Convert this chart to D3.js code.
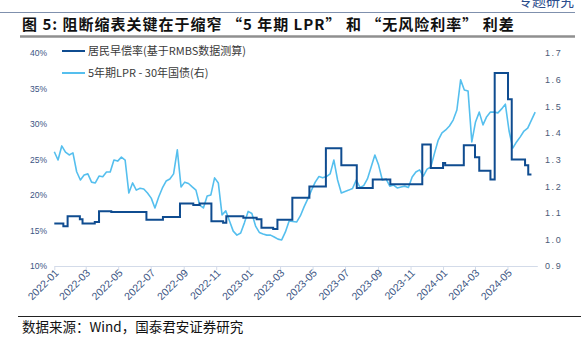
<!DOCTYPE html>
<html><head><meta charset="utf-8">
<script src="https://cdn.jsdelivr.net/npm/d3@7/dist/d3.min.js"></script>
<style>body{margin:0;background:#fff;} svg{display:block}</style>
</head><body><svg id="c" width="581" height="340"></svg>
<script>
// ---------- data ----------
const titleText = "图 5: 阻断缩表关键在于缩窄 “5 年期 LPR” 和 “无风险利率” 利差";
const headerText = "专题研究";
const sourceText = "数据来源：Wind，国泰君安证券研究";
const seriesNames = ["居民早偿率(基于RMBS数据测算)", "5年期LPR - 30年国债(右)"];

// 居民早偿率 (%), step series: change dates and values
const prepayDates = ["2022-01-01","2022-01-18","2022-01-26","2022-02-18","2022-02-23","2022-03-18","2022-03-26","2022-04-18",
  "2022-06-23","2022-07-24","2022-08-25","2022-09-19","2022-10-01","2022-10-23","2022-11-14","2022-11-20","2022-12-22",
  "2023-01-16","2023-01-25","2023-02-16","2023-02-24","2023-03-24","2023-04-25","2023-05-26","2023-06-24","2023-07-23",
  "2023-08-22","2023-09-24","2023-11-23","2023-12-09","2024-01-01","2024-01-05","2024-02-09","2024-03-01","2024-03-09",
  "2024-03-30","2024-04-07","2024-05-02","2024-05-09","2024-06-03","2024-06-09","2024-06-15"];
const prepayValues = [16.0,15.6,17.0,16.6,16.0,16.2,17.7,17.6,
  16.5,16.9,18.8,18.6,18.8,16.3,16.1,17.0,16.8,
  16.6,15.4,15.2,16.5,19.6,21.2,26.6,24.2,21.0,
  22.2,21.5,27.1,23.8,24.5,24.2,27.0,25.3,23.4,
  22.2,37.2,33.5,25.0,24.2,22.9,22.9];

// 5年期LPR - 30年国债 (%), weekly readings starting 2022-01-01
const spreadStart = "2022-01-01";
const spreadValues = [1.329,1.298,1.351,1.328,1.317,1.325,1.254,1.223,1.242,1.246,
  1.215,1.212,1.238,1.235,1.253,1.253,1.298,1.294,1.309,1.298,
  1.174,1.212,1.185,1.192,1.189,1.174,1.155,1.118,1.159,1.193,
  1.219,1.227,1.246,1.336,1.197,1.215,1.210,1.197,1.185,1.129,
  1.118,1.163,1.167,1.231,1.212,1.092,1.107,1.069,1.031,1.016,
  1.024,1.062,1.105,1.097,1.050,1.026,1.020,1.016,1.016,1.009,
  1.001,0.998,1.028,1.069,1.067,1.065,1.088,1.122,1.152,1.185,
  1.215,1.236,1.231,1.236,1.246,1.298,1.223,1.174,1.180,1.185,
  1.191,1.223,1.195,1.202,1.227,1.272,1.317,1.279,1.223,1.227,
  1.200,1.204,1.193,1.197,1.200,1.195,1.234,1.253,1.261,1.238,
  1.264,1.272,1.324,1.373,1.400,1.411,1.426,1.448,1.486,1.599,
  1.561,1.557,1.366,1.441,1.478,1.430,1.461,1.478,1.478,1.475,
  1.490,1.508,1.407,1.343,1.366,1.385,1.407,1.418,1.448,1.478];

const leftTicks = [10,15,20,25,30,35,40];
const rightTicks = [0.9,1.0,1.1,1.2,1.3,1.4,1.5,1.6,1.7];
const xDomain = ["2022-01-01","2024-06-26"];

// ---------- build ----------
const parse = d3.timeParse("%Y-%m-%d");
const prepay = prepayDates.map((d,i)=>({date:parse(d), v:prepayValues[i]}));
const s0 = parse(spreadStart);
const spread = spreadValues.map((v,i)=>({date:d3.timeDay.offset(s0, i*7), v}));

const svg = d3.select("#c");
const axisColor = "#3b5583";

const x = d3.scaleTime().domain(xDomain.map(parse)).range([54.3, 537.3]);
const yL = d3.scaleLinear().domain([10,40]).range([266,53]);
const yR = d3.scaleLinear().domain([0.9,1.7]).range([266,53]);

// header
svg.append("text").attr("x",574).attr("y",6).attr("text-anchor","end")
  .attr("font-family","Noto Sans CJK SC").attr("font-size",14).attr("fill","#2b4c8c").text(headerText);
svg.append("line").attr("x1",0).attr("x2",575).attr("y1",12.5).attr("y2",12.5)
  .attr("stroke","#7f90ad").attr("stroke-width",1.2);
svg.append("text").attr("x",22).attr("y",30)
  .attr("font-family","Noto Sans CJK SC").attr("font-weight",700).attr("font-size",15)
  .attr("letter-spacing","1px").attr("fill","#111").text(titleText);
svg.append("line").attr("x1",20).attr("x2",575).attr("y1",36.5).attr("y2",36.5)
  .attr("stroke","#8f8f8f").attr("stroke-width",2.5);

// axes
const xAxis = d3.axisBottom(x).ticks(d3.timeMonth.every(2)).tickFormat(d3.timeFormat("%Y-%m")).tickSize(4).tickSizeOuter(0);
const gx = svg.append("g").attr("transform","translate(0,266)").call(xAxis);
gx.select(".domain").attr("stroke","#d3dbe9");
gx.selectAll(".tick line").attr("stroke","#d3dbe9");
gx.selectAll(".tick text").attr("fill",axisColor).attr("font-family","Liberation Sans").attr("font-size",10.5)
  .attr("text-anchor","end").attr("transform","translate(2,5) rotate(-45)").attr("dy","0.35em").attr("y",0).attr("x",0);

const gl = svg.append("g").attr("transform","translate(47,0)")
  .call(d3.axisLeft(yL).tickValues(leftTicks).tickFormat(d=>d+"%").tickSize(0).tickPadding(0));
gl.select(".domain").remove();
gl.selectAll("text").attr("fill",axisColor).attr("font-family","Liberation Sans").attr("font-size",8.5);

const gr = svg.append("g").attr("transform","translate(545,0)")
  .call(d3.axisRight(yR).tickValues(rightTicks).tickFormat(d=>d3.format(".1f")(d)).tickSize(0).tickPadding(0));
gr.select(".domain").remove();
gr.selectAll("text").attr("fill","#4a5a78").attr("font-family","Liberation Sans").attr("font-size",9).attr("letter-spacing","1.6px");

// lines
svg.append("path").datum(spread).attr("fill","none").attr("stroke","#55bfee").attr("stroke-width",1.6)
  .attr("stroke-linejoin","round")
  .attr("d", d3.line().x(d=>x(d.date)).y(d=>yR(d.v)));
svg.append("path").datum(prepay).attr("fill","none").attr("stroke","#0f4c90").attr("stroke-width",2)
  .attr("d", d3.line().curve(d3.curveStepAfter).x(d=>x(d.date)).y(d=>yL(d.v)));

// legend
const legColors = ["#0f4c90","#55bfee"];
const legend = svg.append("g");
seriesNames.forEach((n,i)=>{
  const yy = 51 + i*22;
  legend.append("line").attr("x1",62).attr("x2",85).attr("y1",yy).attr("y2",yy)
    .attr("stroke",legColors[i]).attr("stroke-width",2);
  legend.append("text").attr("x",88).attr("y",yy).attr("dy","0.35em")
    .attr("font-family","Noto Sans CJK SC").attr("font-size",11).attr("fill","#3a3a3a").text(n);
});

// footer
svg.append("line").attr("x1",18).attr("x2",581).attr("y1",316.5).attr("y2",316.5).attr("stroke","#222").attr("stroke-width",1);
svg.append("text").attr("x",22).attr("y",332)
  .attr("font-family","Noto Sans CJK SC").attr("font-size",13.5).attr("fill","#111").text(sourceText);
</script></body></html>
